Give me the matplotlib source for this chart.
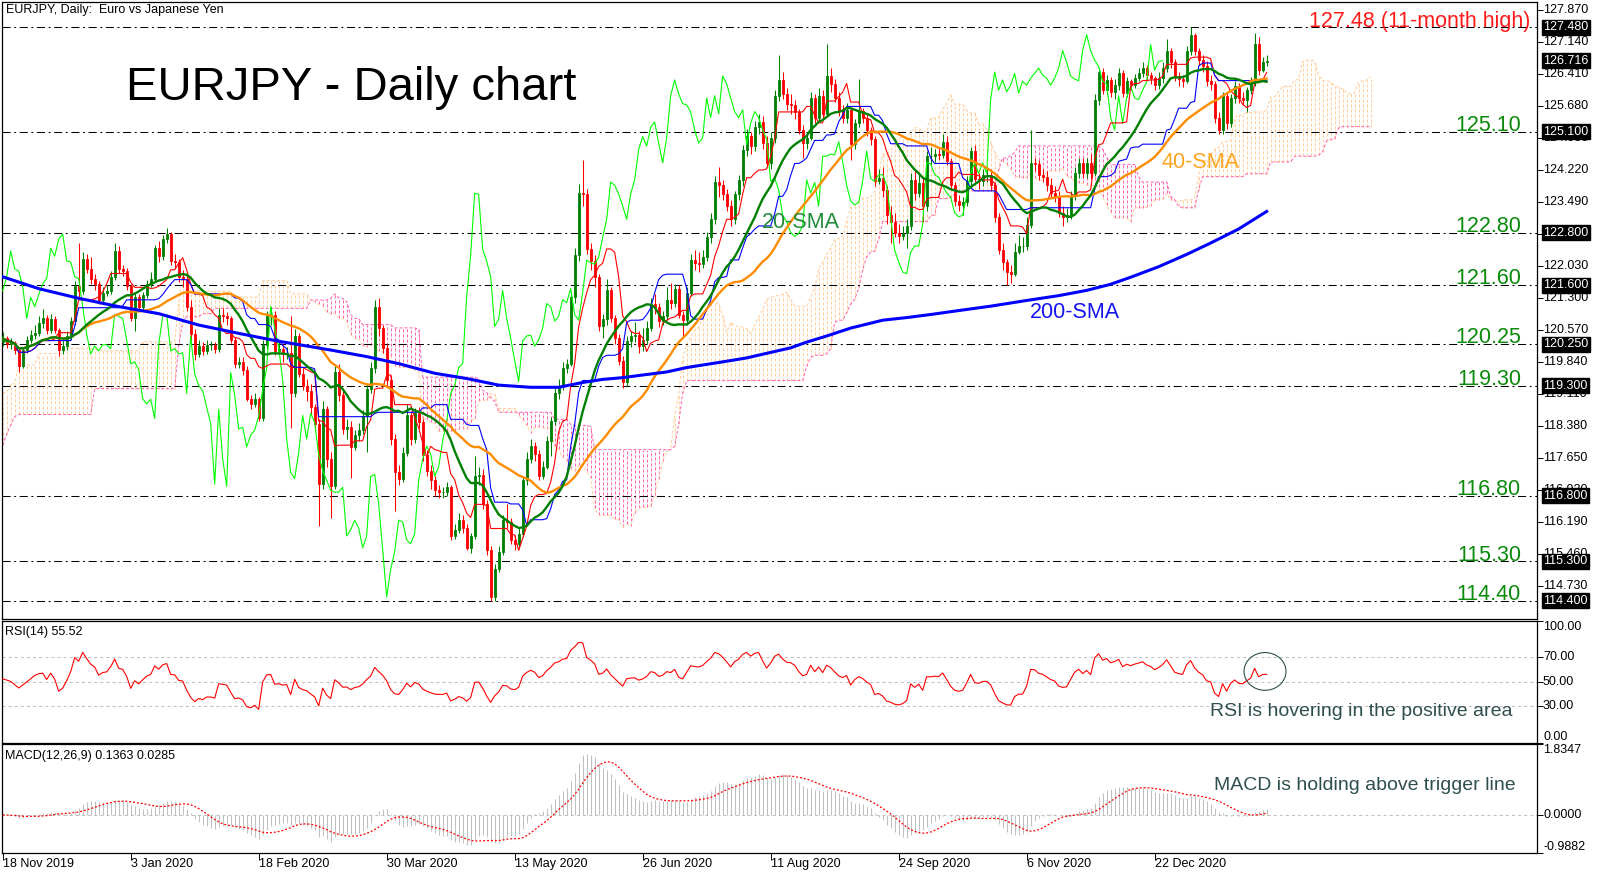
from __future__ import annotations

import matplotlib

matplotlib.use("Agg")
import matplotlib.pyplot as plt
import matplotlib.transforms as mtransforms
import numpy as np
import pandas as pd
from matplotlib.patches import Ellipse

# ---- data (18 Nov 2019 .. 1 Feb 2021) ----
first_open = 120.30

closes = [
    120.39, 120.26, 120.28, 120.12, 119.76, 120.12, 120.35, 120.46, 120.51, 120.73,
    120.84, 120.57, 120.82, 120.57, 120.12, 120.21, 120.44, 120.78, 121.59, 121.47,
    122.20, 121.97, 121.75, 121.63, 121.27, 121.43, 121.47, 121.79, 122.38, 121.97,
    121.92, 121.57, 120.84, 121.32, 121.11, 121.38, 121.63, 121.75, 122.44, 122.26,
    122.65, 122.76, 122.15, 122.13, 121.79, 121.75, 121.11, 120.48, 120.03, 120.21,
    120.10, 120.24, 120.24, 120.15, 120.93, 120.89, 120.84, 120.35, 119.81, 119.85,
    119.67, 119.01, 118.89, 119.00, 118.56, 120.24, 120.89, 120.93, 120.10, 120.15,
    120.03, 120.06, 119.13, 120.44, 119.58, 119.31, 119.19, 118.81, 118.44, 117.06,
    118.77, 117.64, 117.01, 119.61, 119.09, 118.32, 118.36, 117.91, 118.18, 118.29,
    118.62, 119.22, 119.70, 121.11, 120.62, 120.17, 119.44, 118.09, 117.33, 117.19,
    117.78, 118.63, 118.09, 118.68, 118.47, 117.73, 117.37, 117.15, 116.92, 116.88,
    116.88, 116.99, 115.88, 116.02, 116.24, 116.06, 115.61, 115.88, 117.24, 117.28,
    116.61, 115.57, 114.49, 115.12, 115.52, 116.24, 116.20, 115.79, 115.70, 115.93,
    117.15, 117.64, 117.93, 117.75, 117.24, 117.46, 118.05, 118.50, 119.13, 119.31,
    119.72, 119.81, 121.34, 122.29, 123.70, 123.67, 122.42, 122.15, 121.79, 120.66,
    120.82, 121.48, 120.84, 120.39, 119.88, 119.40, 120.33, 120.44, 120.46, 120.21,
    120.35, 120.62, 121.18, 121.11, 120.78, 120.89, 121.27, 121.20, 121.52, 120.93,
    120.80, 121.43, 122.17, 122.11, 122.08, 122.24, 122.69, 123.10, 123.95, 123.88,
    123.68, 123.41, 123.10, 123.68, 124.00, 124.69, 124.99, 124.77, 125.20, 125.32,
    124.84, 124.39, 124.96, 125.92, 126.28, 125.96, 125.74, 125.71, 125.55, 125.14,
    124.84, 124.96, 125.87, 125.42, 125.92, 125.51, 126.37, 126.19, 125.87, 125.56,
    125.42, 125.60, 124.81, 125.29, 125.56, 125.42, 125.14, 124.93, 123.97, 124.04,
    123.77, 123.19, 123.05, 122.80, 122.71, 122.78, 122.94, 124.00, 123.70, 123.94,
    123.40, 124.54, 124.54, 124.59, 124.57, 124.87, 124.42, 123.88, 123.52, 123.43,
    123.49, 123.97, 124.66, 124.03, 123.97, 124.12, 124.12, 123.88, 123.16, 122.40,
    122.13, 121.90, 121.86, 122.35, 122.49, 122.49, 122.98, 124.39, 124.37, 124.12,
    124.06, 123.88, 123.70, 123.61, 123.25, 123.16, 123.19, 123.64, 124.15, 124.39,
    124.15, 124.39, 124.15, 125.83, 126.46, 126.05, 126.28, 126.01, 126.16, 126.43,
    125.98, 126.25, 126.16, 126.32, 126.43, 126.55, 126.39, 126.32, 126.16, 126.32,
    126.55, 126.95, 126.68, 126.37, 126.30, 126.26, 126.95, 127.31, 126.95, 126.73,
    126.59, 126.25, 126.19, 125.42, 125.14, 125.92, 125.29, 125.87, 126.14, 125.87,
    125.83, 126.05, 126.23, 127.09, 126.50, 126.70, 126.72,
]

highs = [
    120.52, 120.45, 120.40, 120.33, 120.18, 120.20, 120.44, 120.58, 120.70, 120.90,
    121.05, 120.92, 120.95, 120.90, 120.63, 120.35, 120.55, 120.88, 121.70, 122.55,
    122.35, 122.30, 122.25, 121.85, 121.70, 121.55, 121.60, 121.92, 122.55, 122.50,
    122.05, 122.00, 121.62, 121.45, 121.40, 121.45, 121.72, 121.90, 122.52, 122.60,
    122.75, 122.90, 122.82, 122.30, 122.20, 121.95, 121.80, 121.25, 120.60, 120.35,
    120.30, 120.35, 120.33, 120.30, 121.07, 121.08, 120.98, 120.90, 120.42, 119.95,
    119.95, 119.75, 119.10, 119.15, 119.05, 120.35, 121.02, 121.10, 121.00, 120.30,
    120.25, 120.20, 120.90, 120.60, 120.50, 119.70, 119.45, 119.35, 118.90, 118.55,
    118.95, 118.85, 117.80, 119.75, 119.80, 119.20, 118.55, 118.50, 118.30, 118.45,
    118.75, 119.35, 119.85, 121.25, 121.30, 120.70, 120.25, 119.55, 118.20, 117.50,
    117.90, 118.90, 118.72, 118.80, 118.82, 118.55, 117.85, 117.50, 117.25, 117.05,
    117.00, 117.10, 117.05, 116.15, 116.40, 116.35, 116.15, 115.95, 117.70, 117.45,
    117.40, 116.70, 115.65, 115.25, 115.65, 116.35, 116.60, 116.30, 115.90, 116.05,
    117.25, 117.80, 118.10, 118.02, 117.85, 117.60, 118.15, 118.60, 119.25, 119.45,
    119.85, 119.92, 121.45, 122.45, 123.90, 124.45, 123.80, 122.55, 122.28, 121.85,
    120.95, 121.75, 121.55, 120.92, 120.48, 119.98, 120.45, 120.55, 120.75, 120.55,
    120.62, 120.78, 121.30, 121.40, 121.20, 121.00, 121.55, 121.65, 121.62, 121.60,
    121.02, 121.55, 122.30, 122.40, 122.35, 122.40, 122.82, 123.25, 124.10, 124.30,
    124.00, 123.80, 123.55, 123.75, 124.12, 124.80, 125.15, 125.10, 125.35, 125.50,
    125.45, 125.00, 125.10, 126.05, 126.85, 126.45, 126.10, 125.95, 125.82, 125.62,
    125.25, 125.10, 126.00, 125.95, 126.10, 126.05, 127.10, 126.55, 126.30, 126.00,
    125.70, 125.75, 125.65, 125.40, 126.30, 125.65, 125.50, 125.20, 125.00, 124.25,
    124.30, 123.85, 123.40, 123.25, 123.00, 122.95, 123.10, 124.15, 124.20, 124.15,
    124.05, 124.65, 124.75, 124.70, 124.72, 125.05, 125.00, 124.50, 123.95, 123.65,
    123.60, 124.10, 124.75, 124.80, 124.15, 124.25, 124.30, 124.25, 123.95, 123.25,
    122.55, 122.20, 122.05, 122.55, 122.75, 122.70, 123.15, 125.13, 124.50, 124.45,
    124.25, 124.20, 124.05, 123.85, 123.75, 123.40, 123.35, 123.75, 124.30, 124.50,
    124.50, 124.50, 124.60, 125.95, 126.55, 126.55, 126.40, 126.35, 126.30, 126.55,
    126.50, 126.35, 126.30, 126.42, 126.55, 126.68, 126.62, 126.45, 126.38, 126.45,
    126.68, 127.22, 127.00, 126.75, 126.45, 126.40, 127.05, 127.48, 127.35, 127.00,
    126.85, 126.72, 126.40, 126.25, 125.55, 126.00, 126.00, 125.95, 126.25, 126.22,
    126.00, 126.12, 126.35, 127.35, 127.25, 126.80, 126.85,
]

lows = [
    120.22, 120.17, 120.15, 120.02, 119.62, 119.70, 120.05, 120.28, 120.38, 120.45,
    120.62, 120.48, 120.50, 120.50, 119.98, 120.02, 120.12, 120.35, 120.70, 121.32,
    121.40, 121.88, 121.62, 121.50, 121.18, 121.20, 121.35, 121.40, 121.72, 121.88,
    121.80, 121.50, 120.78, 120.55, 121.02, 121.00, 121.30, 121.55, 121.70, 122.12,
    122.18, 122.55, 122.05, 121.98, 121.68, 121.55, 121.00, 120.35, 119.90, 119.95,
    120.00, 120.02, 120.12, 120.05, 120.08, 120.75, 120.70, 120.28, 119.72, 119.70,
    119.55, 118.95, 118.78, 118.82, 118.50, 118.50, 120.15, 120.70, 120.00, 120.02,
    119.85, 119.92, 118.35, 119.05, 119.50, 119.20, 118.95, 118.65, 118.28, 116.10,
    116.95, 117.45, 116.30, 116.95, 118.95, 118.20, 118.10, 117.20, 117.85, 118.05,
    118.20, 117.80, 119.15, 119.60, 120.45, 120.05, 119.30, 117.95, 116.45, 117.05,
    117.10, 117.70, 117.95, 118.00, 118.35, 117.60, 117.25, 116.95, 116.80, 116.75,
    116.75, 116.80, 115.78, 115.80, 115.95, 115.95, 115.55, 115.50, 115.80, 117.05,
    116.50, 115.45, 114.40, 114.40, 115.05, 115.45, 116.05, 115.70, 115.55, 115.62,
    115.85, 117.05, 117.55, 117.60, 117.15, 117.18, 117.40, 117.70, 118.40, 119.00,
    119.20, 119.60, 119.75, 121.20, 122.15, 123.40, 122.30, 121.95, 121.55, 120.55,
    120.40, 120.70, 120.75, 120.25, 119.78, 119.25, 119.30, 120.20, 120.30, 120.05,
    120.10, 120.25, 120.55, 120.95, 120.65, 120.68, 120.80, 121.05, 121.10, 120.85,
    120.40, 120.70, 121.35, 121.95, 121.90, 122.00, 122.15, 122.55, 123.00, 123.60,
    123.55, 123.30, 122.95, 123.00, 123.55, 123.85, 124.55, 124.60, 124.65, 125.05,
    124.70, 124.30, 124.25, 124.85, 125.80, 125.85, 125.60, 125.50, 125.40, 125.05,
    124.50, 124.70, 124.90, 125.30, 125.35, 125.40, 125.45, 126.00, 125.78, 125.45,
    125.30, 125.30, 124.45, 124.70, 125.20, 125.30, 125.00, 124.80, 123.85, 123.90,
    123.60, 123.00, 122.55, 122.70, 122.55, 122.62, 122.45, 122.85, 123.55, 123.60,
    123.05, 123.30, 124.35, 124.40, 124.45, 124.50, 124.35, 123.80, 123.40, 123.30,
    123.20, 123.40, 123.85, 123.95, 123.80, 123.85, 123.95, 123.75, 123.05, 122.30,
    121.95, 121.60, 121.65, 121.80, 122.30, 122.35, 122.40, 122.90, 124.20, 124.00,
    123.95, 123.75, 123.60, 123.50, 123.15, 122.95, 123.05, 123.10, 123.55, 124.05,
    124.05, 124.05, 124.05, 124.10, 125.70, 125.95, 125.95, 125.90, 125.85, 126.05,
    125.88, 125.90, 126.05, 126.10, 126.25, 126.35, 126.28, 126.18, 126.05, 126.08,
    126.20, 126.45, 126.55, 126.25, 126.15, 126.12, 126.20, 126.85, 126.85, 126.62,
    126.45, 126.15, 126.05, 125.30, 125.05, 125.05, 125.15, 125.20, 125.75, 125.75,
    125.70, 125.55, 125.95, 126.15, 126.40, 126.45, 126.60,
]

# Ichimoku cloud for the first 77 bars (its inputs lie before the visible data)
early_span_a = [
    119.15, 119.15, 119.35, 119.35, 119.78, 119.78, 119.78, 119.78, 119.78, 120.04,
    120.04, 120.04, 120.04, 120.04, 120.04, 120.04, 120.16, 120.16, 120.16, 120.16,
    120.16, 120.16, 120.16, 120.16, 120.10, 120.10, 120.10, 120.10, 120.10, 120.10,
    120.10, 120.10, 120.10, 120.10, 120.10, 120.31, 120.31, 120.31, 120.31, 120.31,
    120.31, 120.31, 120.31, 120.31, 121.20, 121.83, 121.83, 121.46, 121.46, 121.46,
    121.46, 121.46, 121.46, 121.46, 121.46, 121.46, 121.46, 121.46, 121.33, 121.33,
    121.33, 121.33, 121.33, 121.33, 121.33, 121.70, 121.70, 121.70, 121.70, 121.70,
    121.70, 121.70, 121.40, 121.40, 121.40, 121.40, 121.40,
]
early_span_b = [
    117.95, 118.20, 118.41, 118.60, 118.65, 118.65, 118.65, 118.65, 118.65, 118.65,
    118.65, 118.65, 118.65, 118.65, 118.65, 118.65, 118.65, 118.65, 118.65, 118.65,
    118.65, 118.65, 118.65, 119.24, 119.24, 119.24, 119.24, 119.24, 119.24, 119.24,
    119.24, 119.24, 119.24, 119.24, 119.24, 119.24, 119.24, 119.24, 119.24, 119.24,
    119.24, 119.24, 119.24, 119.24, 120.23, 120.76, 120.88, 120.88, 120.88, 120.88,
    120.95, 120.95, 120.95, 121.07, 121.07, 121.07, 121.07, 121.07, 121.07, 121.07,
    121.07, 121.07, 121.07, 121.07, 121.07, 121.07, 121.07, 121.07, 121.07, 121.07,
    121.07, 121.07, 121.07, 121.07, 121.07, 121.07, 121.07,
]

# RSI for the first 14 bars (its warm-up lies before the visible data)
early_rsi = [52.4, 51.3, 50.2, 47.5, 44.8, 47.2, 49.7, 52.4, 55.1, 56.5, 57.0, 51.8, 57.0, 52.0]

# 200-day SMA (needs history before the chart), read at these bars
sma200_bars = [0, 9, 19, 29, 39, 49, 59, 69, 82, 91, 99, 108, 116, 124, 132, 139,
               145, 150, 155, 160, 166, 171, 180, 186, 197, 201, 206, 212, 220, 226,
               232, 239, 247, 256, 264, 271, 277, 282, 289, 296, 302, 309, 316]
sma200_values = [121.79, 121.52, 121.30, 121.11, 120.95, 120.69, 120.50, 120.32, 120.12,
                 119.97, 119.81, 119.59, 119.47, 119.32, 119.27, 119.27, 119.38, 119.45,
                 119.49, 119.55, 119.62, 119.72, 119.85, 119.94, 120.17, 120.30, 120.44,
                 120.62, 120.80, 120.86, 120.93, 121.02, 121.12, 121.25, 121.36, 121.48,
                 121.62, 121.78, 122.02, 122.30, 122.56, 122.88, 123.28]

levels = [127.48, 125.10, 122.80, 121.60, 120.25, 119.30, 116.80, 115.30, 114.40]
level_texts = ["125.10", "122.80", "121.60", "120.25", "119.30", "116.80", "115.30", "114.40"]
current_price = 126.716
price_ticks = [127.87, 127.14, 126.41, 125.68, 124.95, 124.22, 123.49, 122.76, 122.03,
               121.30, 120.57, 119.84, 119.11, 118.38, 117.65, 116.92, 116.19, 115.46, 114.73]
hidden_ticks = [122.76]  # fully covered by the 122.800 box in the reference
date_bars = [0, 32, 64, 96, 128, 160, 192, 224, 256, 288]
date_labels = ["18 Nov 2019", "3 Jan 2020", "18 Feb 2020", "30 Mar 2020", "13 May 2020",
               "26 Jun 2020", "11 Aug 2020", "24 Sep 2020", "6 Nov 2020", "22 Dec 2020"]
rsi_levels = [70, 50, 30]

W, H = 1607, 877
UP, DOWN = "#008000", "#FF0000"
PEACH, PINK = "#FFCF9E", "#FF69B4"


def fx(px: float) -> float:
    return px / W


def fy(py: float) -> float:
    return 1 - py / H


def rect(left: float, top: float, right: float, bottom: float) -> list[float]:
    return [fx(left), fy(bottom), (right - left) / W, (bottom - top) / H]


def style_pane(ax) -> None:
    for spine in ax.spines.values():
        spine.set_linewidth(0.9)
        spine.set_color("black")
    ax.set_xlim(-0.1, 383.6)
    ax.tick_params(axis="x", bottom=False, labelbottom=False)
    ax.yaxis.tick_right()
    ax.tick_params(axis="y", direction="out", length=4, width=0.7, labelright=False)


def side_label(fig, ax, value: float, text: str, va: str = "center", boxed: bool = False) -> None:
    tr = mtransforms.blended_transform_factory(fig.transFigure, ax.transData)
    kw = dict(transform=tr, ha="left", va=va, fontsize=9, clip_on=False, zorder=10)
    if boxed:
        kw.update(color="white", bbox=dict(boxstyle="square,pad=0.12", fc="black", ec="black"))
    ax.text(fx(1543), value, text, **kw)


def main() -> None:
    plt.rcParams["font.family"] = ["Liberation Sans", "DejaVu Sans"]
    plt.rcParams["lines.scale_dashes"] = False

    close = pd.Series(closes)
    high = pd.Series(highs)
    low = pd.Series(lows)
    opens = pd.Series([first_open] + closes[:-1])  # FX daily bars open at the prior close
    n = len(close)
    x = np.arange(n)

    sma20 = close.rolling(20, min_periods=1).mean()
    sma40 = close.rolling(40, min_periods=1).mean()
    tenkan = (high.rolling(9, min_periods=1).max() + low.rolling(9, min_periods=1).min()) / 2
    kijun = (high.rolling(26, min_periods=1).max() + low.rolling(26, min_periods=1).min()) / 2
    lead_a = (tenkan + kijun) / 2
    lead_b = (high.rolling(52, min_periods=1).max() + low.rolling(52, min_periods=1).min()) / 2
    k0 = len(early_span_a)
    span_a = np.array(early_span_a + list(lead_a.values[k0 - 26:]))
    span_b = np.array(early_span_b + list(lead_b.values[k0 - 26:]))
    cx = np.arange(len(span_a))

    delta = close.diff().fillna(0)
    gain = delta.clip(lower=0).ewm(alpha=1 / 14, adjust=False).mean()
    loss = (-delta.clip(upper=0)).ewm(alpha=1 / 14, adjust=False).mean()
    rsi = (100 - 100 / (1 + gain / loss.replace(0, np.nan))).fillna(50).values
    rsi[: len(early_rsi)] = early_rsi
    macd = close.ewm(span=12, adjust=False).mean() - close.ewm(span=26, adjust=False).mean()
    signal = macd.rolling(9, min_periods=1).mean()

    fig = plt.figure(figsize=(W / 100, H / 100), dpi=100)
    ax = fig.add_axes(rect(2.3, 2, 1537, 618.6))
    rsi_ax = fig.add_axes(rect(2.3, 620.8, 1537, 742.5))
    macd_ax = fig.add_axes(rect(2.3, 744, 1537, 853))
    for pane in (ax, rsi_ax, macd_ax):
        style_pane(pane)

    # ---- price pane ----
    ax.set_ylim(113.995, 128.057)
    cloud_colors = np.where(span_a >= span_b, PEACH, PINK)
    ax.vlines(cx, np.minimum(span_a, span_b), np.maximum(span_a, span_b), colors=cloud_colors,
              lw=0.75, linestyles=[(0, (2.2, 1.4))], zorder=1)
    ax.plot(cx, span_a, color=PEACH, lw=0.75, dashes=(2.2, 1.4), zorder=1)
    ax.plot(cx, span_b, color=PINK, lw=0.75, dashes=(2.2, 1.4), zorder=1)

    for level in levels:
        ax.axhline(level, color="black", lw=0.75, dashes=(5.8, 2.6, 1.4, 2.6), zorder=2)

    colors = np.where(close >= opens, UP, DOWN)
    ax.vlines(x, low, high, colors=colors, lw=0.75, zorder=3)
    ax.bar(x, (close - opens).abs(), bottom=np.minimum(opens, close), width=0.55,
           color=colors, edgecolor=colors, lw=0.6, zorder=3)

    ax.plot(x[:-26], close.values[26:], color="#00FF00", lw=0.8, zorder=4)
    ax.plot(x, tenkan, color="#FF0000", lw=0.8, zorder=4)
    ax.plot(x, kijun, color="#0000FF", lw=0.8, zorder=4)
    ax.plot(x, sma40, color="#FF8C00", lw=1.7, zorder=5)
    ax.plot(x, sma20, color="#008000", lw=1.7, zorder=5)
    ax.plot(sma200_bars, sma200_values, color="#0000FF", lw=2.2, zorder=5)

    ax.set_yticks(price_ticks)
    for value in price_ticks:
        if value not in hidden_ticks:
            side_label(fig, ax, value, f"{value:.3f}")
    for value in levels + [current_price]:
        side_label(fig, ax, value, f"{value:.3f}", boxed=True)

    ftr = mtransforms.blended_transform_factory(fig.transFigure, ax.transData)
    ax.text(fx(1530), levels[0], "127.48 (11-month high)", transform=ftr, ha="right",
            va="baseline", color="#FF1A1A", fontsize=15.5, zorder=8)
    for level, label in zip(levels[1:], level_texts):
        ax.text(fx(1521), level + 0.02, label, transform=ftr, ha="right", va="baseline",
                color="#0A8A0A", fontsize=15.5, zorder=8)

    fig.text(fx(6), fy(10), "EURJPY, Daily:  Euro vs Japanese Yen", fontsize=9, va="center")
    fig.text(fx(126), fy(99.5), "EURJPY - Daily chart", fontsize=34, va="baseline")
    fig.text(fx(762), fy(223), "20-SMA", fontsize=15.5, va="center", color="#218B3A")
    fig.text(fx(1161), fy(163), "40-SMA", fontsize=15.5, va="center", color="#FFA520")
    fig.text(fx(1030), fy(313), "200-SMA", fontsize=15.5, va="center", color="#1414F0")

    # ---- RSI pane ----
    rsi_ax.set_ylim(0, 100)
    for level in rsi_levels:
        rsi_ax.axhline(level, color="#C0C0C0", lw=0.75, dashes=(2.2, 2.2), zorder=1)
    rsi_ax.plot(x, rsi, color="#FF0000", lw=0.8, zorder=3)
    rsi_ax.add_patch(Ellipse((315.6, 58.4), 10.5, 31, fill=False, ec="#2F4F4F", lw=0.8, zorder=4))
    rsi_ax.set_yticks([100] + rsi_levels + [0])
    side_label(fig, rsi_ax, 100, "100.00", va="top")
    for level in rsi_levels:
        side_label(fig, rsi_ax, level, f"{level:.2f}")
    side_label(fig, rsi_ax, 0, "0.00", va="bottom")
    fig.text(fx(5), fy(632), "RSI(14) 55.52", fontsize=9, va="center")
    fig.text(fx(1513), fy(712), "RSI is hovering in the positive area", fontsize=14,
             ha="right", va="center", color="#2F4F4F")

    # ---- MACD pane ----
    macd_ax.set_ylim(-0.9882, 1.8347)
    macd_ax.axhline(0, color="#C0C0C0", lw=0.75, dashes=(2.2, 2.2), zorder=1)
    macd_ax.vlines(x, 0, macd, colors="#C0C0C0", lw=0.75, zorder=2)
    macd_ax.plot(x, signal, color="#FF0000", lw=0.9, dashes=(1.4, 1.4), zorder=3)
    macd_ax.set_yticks([1.8347, 0.0, -0.9882])
    side_label(fig, macd_ax, 1.8347, "1.8347", va="top")
    side_label(fig, macd_ax, 0.0, "0.0000")
    side_label(fig, macd_ax, -0.9882, "-0.9882", va="bottom")
    fig.text(fx(5), fy(756), "MACD(12,26,9) 0.1363 0.0285", fontsize=9, va="center")
    fig.text(fx(1516), fy(786), "MACD is holding above trigger line", fontsize=14,
             ha="right", va="center", color="#2F4F4F")

    macd_ax.set_xticks(date_bars)
    macd_ax.tick_params(axis="x", bottom=True, direction="out", length=5, width=0.7,
                        labelbottom=False)
    dtr = mtransforms.blended_transform_factory(macd_ax.transData, fig.transFigure)
    for bar, label in zip(date_bars, date_labels):
        macd_ax.text(bar, fy(864), label, transform=dtr, ha="left", va="center",
                     fontsize=9, clip_on=False)

    fig.savefig("out.png", dpi=100)
    plt.close(fig)


if __name__ == "__main__":
    main()
